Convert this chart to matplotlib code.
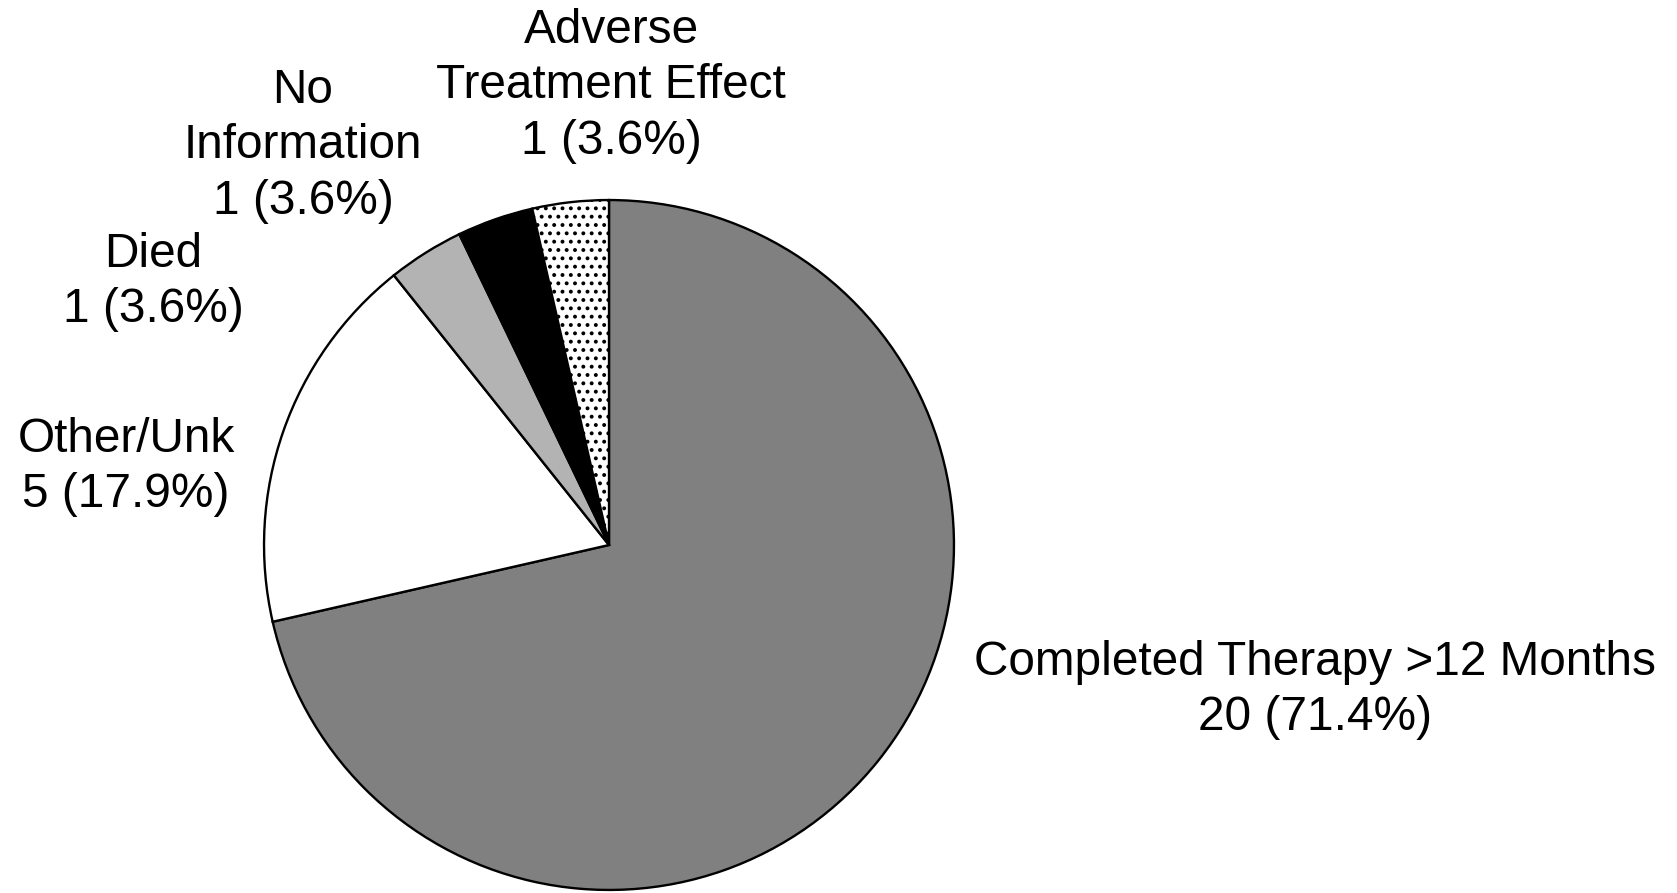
import matplotlib
matplotlib.use("Agg")
import matplotlib.pyplot as plt

categories = ["Completed Therapy >12 Months", "Other/Unk", "Died", "No Information", "Adverse Treatment Effect"]
counts = [20, 5, 1, 1, 1]
percents = [71.4, 17.9, 3.6, 3.6, 3.6]
label_texts = [
    "Completed Therapy >12 Months\n20 (71.4%)",
    "Other/Unk\n5 (17.9%)",
    "Died\n1 (3.6%)",
    "No\nInformation\n1 (3.6%)",
    "Adverse\nTreatment Effect\n1 (3.6%)",
]
colors = ["#808080", "#ffffff", "#b3b3b3", "#000000", "#ffffff"]
hatches = [None, None, None, None, ".."]

plt.rcParams['font.family'] = ['Liberation Sans', 'DejaVu Sans']
plt.rcParams['hatch.linewidth'] = 1.6

W, H = 1677, 893
fig = plt.figure(figsize=(W / 100, H / 100), dpi=100)
cx, cy, r = 609, 545, 346
ax = fig.add_axes([(cx - r) / W, (H - cy - r) / H, 2 * r / W, 2 * r / H])

wedges, _ = ax.pie(counts, colors=colors, startangle=90, counterclock=False,
                   radius=1, wedgeprops=dict(edgecolor='black', linewidth=1.7))
for w, h in zip(wedges, hatches):
    if h:
        w.set_hatch(h)
ax.set_xlim(-1.003, 1.003)
ax.set_ylim(-1.003, 1.003)
ax.set_aspect('equal')
ax.axis('off')

# label centers in pixel coords (layout)
label_pos = [(1315, 690), (126, 467), (153, 282), (303, 146), (611, 86)]
for txt, (px, py) in zip(label_texts, label_pos):
    fig.text(px / W, 1 - py / H, txt, ha='center', va='center', fontsize=34.4,
             linespacing=1.31)

fig.savefig("out.png", dpi=100)
